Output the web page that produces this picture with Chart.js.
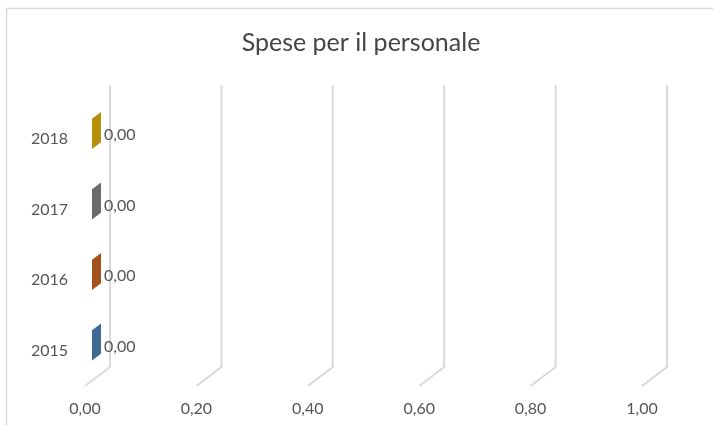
<!DOCTYPE html>
<html>
<head>
<meta charset="utf-8">
<script src="https://cdn.jsdelivr.net/npm/chart.js@4/dist/chart.umd.min.js"></script>
<style>
  html, body { margin: 0; padding: 0; background: #fff; }
  #wrap { width: 713px; height: 425px; position: relative; }
</style>
</head>
<body>
<div id="wrap"><canvas id="spChart"></canvas></div>
<script>
/* ── data ── */
const years  = ['2018', '2017', '2016', '2015'];
const values = [0, 0, 0, 0];
const colors = ['#b88f0a', '#6b6b6b', '#a4501d', '#3d6993'];
const xTicks = [0, 0.2, 0.4, 0.6, 0.8, 1.0];
const title  = 'Spese per il personale';

const TEXT  = '#555555';
const GRID  = '#d9d9d9';
const FONT  = "Lato, 'Noto Sans', sans-serif";
const DEPTH = { dx: 25, dy: -19 };

const fmt = v => Number(v).toFixed(2).replace('.', ',');

/* ── frame, title, 3D walls ── */
const frame3d = {
  id: 'frame3d',
  beforeDraw(chart) {
    const c = chart.ctx;
    c.save();
    c.strokeStyle = GRID;
    c.lineWidth = 1.5;
    c.beginPath();
    c.moveTo(6.5, chart.height);
    c.lineTo(6.5, 8.5);
    c.lineTo(chart.width, 8.5);
    c.stroke();
    c.fillStyle = '#454545';
    c.font = '25px ' + FONT;
    c.textAlign = 'center';
    c.textBaseline = 'middle';
    c.fillText(title, 361, 43);
    c.restore();
  },
  beforeDatasetsDraw(chart) {
    const c = chart.ctx, a = chart.chartArea, xs = chart.scales.x;
    c.save();
    c.strokeStyle = GRID;
    c.lineWidth = 2;
    xTicks.forEach(t => {
      const px = xs.getPixelForValue(t);
      c.beginPath();
      c.moveTo(px, a.bottom);
      c.lineTo(px + DEPTH.dx, a.bottom + DEPTH.dy);
      c.lineTo(px + DEPTH.dx, a.top + DEPTH.dy);
      c.stroke();
    });
    c.restore();
  },
  afterDatasetsDraw(chart) {
    const c = chart.ctx;
    const ds = chart.data.datasets[0];
    const meta = chart.getDatasetMeta(0);
    const r = DEPTH.dy / DEPTH.dx;
    c.save();
    meta.data.forEach((el, i) => {
      const h = el.height / 2;
      const x1 = el.x + 7, x2 = el.x + 16;
      const y1 = el.y + 7 * r, y2 = el.y + 16 * r;
      c.fillStyle = ds.backgroundColor[i];
      c.beginPath();
      c.moveTo(x1, y1 - h);
      c.lineTo(x2, y2 - h);
      c.lineTo(x2, y2 + h);
      c.lineTo(x1, y1 + h);
      c.closePath();
      c.fill();
      c.fillStyle = TEXT;
      c.font = '16px ' + FONT;
      c.textBaseline = 'middle';
      c.textAlign = 'left';
      c.fillText(fmt(ds.data[i]), el.x + 19, el.y - 4);
    });
    c.restore();
  }
};

new Chart(document.getElementById('spChart'), {
  type: 'bar',
  data: {
    labels: years,
    datasets: [{
      label: title,
      data: values,
      backgroundColor: colors,
      borderWidth: 0,
      categoryPercentage: 1,
      barPercentage: 0.43
    }]
  },
  options: {
    indexAxis: 'y',
    responsive: true,
    maintainAspectRatio: false,
    animation: false,
    layout: { padding: { left: 0, right: 71, top: 104, bottom: 0 } },
    plugins: {
      legend: { display: false },
      tooltip: { enabled: false },
      title: { display: false }
    },
    scales: {
      x: {
        min: 0, max: 1,
        grid: { display: false, drawTicks: false },
        border: { display: false },
        afterBuildTicks: s => { s.ticks = xTicks.map(v => ({ value: v })); },
        afterFit: s => { s.height = 39; },
        ticks: { color: TEXT, font: { family: FONT, size: 16 }, padding: 13, callback: v => fmt(v) }
      },
      y: {
        grid: { display: false, drawTicks: false },
        border: { display: false },
        afterFit: s => { s.width = 85; },
        ticks: { color: TEXT, font: { family: FONT, size: 16 }, padding: 17 }
      }
    }
  },
  plugins: [frame3d]
});
</script>
</body>
</html>
